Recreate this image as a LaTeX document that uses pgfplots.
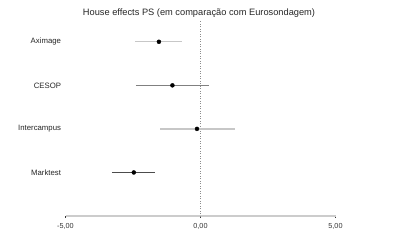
\documentclass[border=0pt]{standalone}
\usepackage{pgfplots}
\pgfplotsset{compat=1.18}
\usepackage{fontspec}
\setmainfont{Liberation Sans}
\begin{document}
\begin{tikzpicture}
\path[use as bounding box] (0,0) rectangle (400bp,244bp);
\begin{axis}[
  at={(65.5bp,28bp)}, anchor=south west,
  scale only axis, width=270bp, height=196bp,
  xmin=-5, xmax=5, ymin=0, ymax=4.5,
  axis x line=bottom, axis y line=left,
  x axis line style={draw=black!20, line width=1.5bp, -},
  y axis line style={draw=none},
  xtick={-5,0,5},
  xticklabels={{-5,00},{0,00},{5,00}},
  xticklabel style={font=\fontsize{7.3}{8}\selectfont, text=black!80, yshift=-2bp},
  tick align=outside, major tick length=2bp,
  x tick style={black!80, line width=0.6bp},
  y tick style={draw=none},
  ytick={1,2,3,4},
  yticklabels={Marktest,Intercampus,CESOP,Aximage},
  yticklabel style={font=\fontsize{7.8}{9}\selectfont, text=black!85, anchor=east, xshift=1bp},
  clip=false,
]
\addplot[black!45, dotted, line width=0.5bp] coordinates {(0,0) (0,4.5)};
\addplot[black!22, line width=1.2bp] coordinates {(-2.41,4) (-0.69,4)};
\addplot[black!50, line width=0.9bp] coordinates {(-2.39,3) (0.31,3)};
\addplot[black!22, line width=1.8bp] coordinates {(-1.50,2) (1.28,2)};
\addplot[black!70, line width=1.0bp] coordinates {(-3.28,1) (-1.69,1)};
\addplot[only marks, mark=*, mark size=2.0bp, black] coordinates {(-1.54,4) (-1.04,3) (-0.13,2) (-2.47,1)};
\end{axis}
\node[font=\fontsize{9.3}{11}\selectfont, text=black!85] at (199bp,231bp) {House effects PS (em comparação com Eurosondagem)};
\end{tikzpicture}
\end{document}
